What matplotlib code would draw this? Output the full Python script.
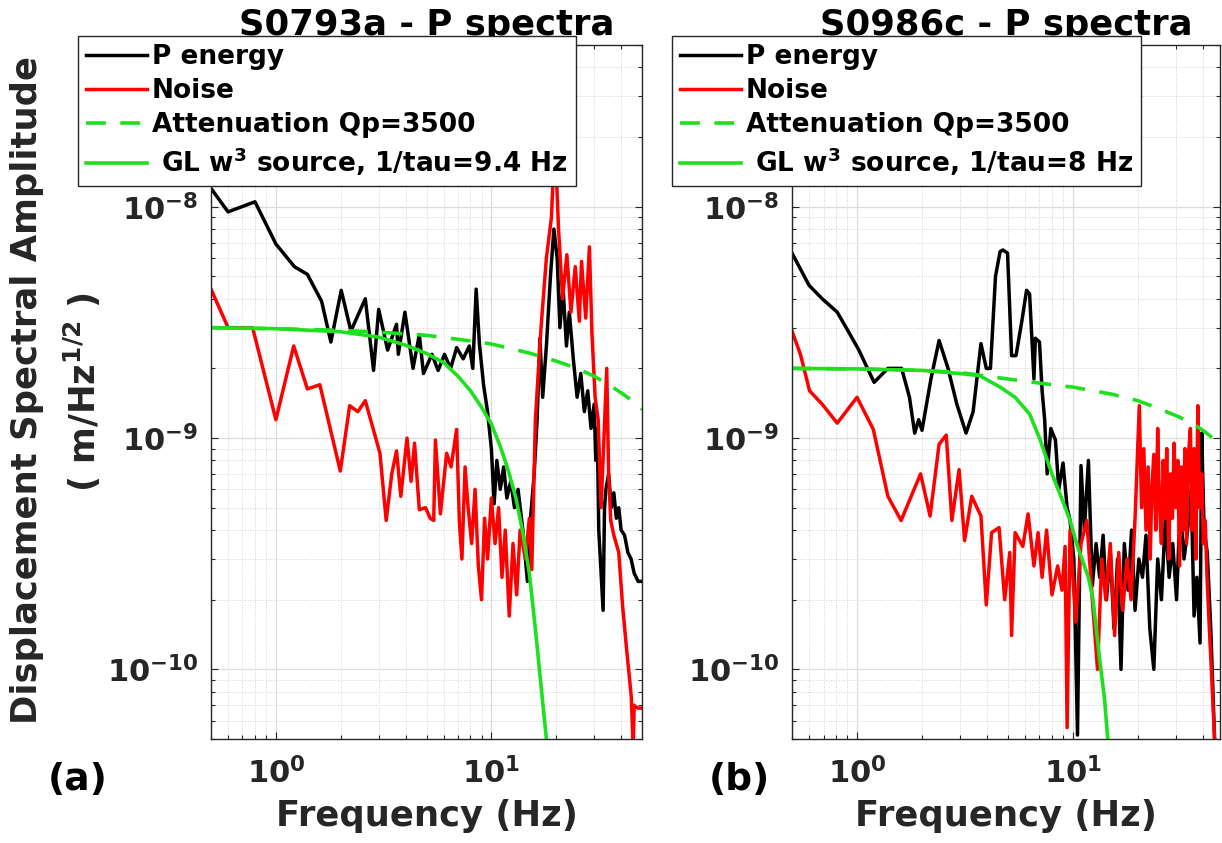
"""
Displacement spectra of two marsquakes (P window vs noise) with source and attenuation fits.
"""

import numpy as np
import matplotlib

matplotlib.use("Agg")
import matplotlib.pyplot as plt
from matplotlib.ticker import LogLocator, FixedLocator, FuncFormatter, NullFormatter

plt.rcParams["font.family"] = ["DejaVu Sans"]
plt.rcParams["font.weight"] = "bold"
plt.rcParams["axes.labelweight"] = "bold"
plt.rcParams["mathtext.fontset"] = "dejavusans"

# ---- S0793a (left panel), amplitudes in units of 1e-9 m/Hz^(1/2) ----
s0793_p_freq = [0.5, 0.6, 0.8, 1.0, 1.22, 1.4, 1.63, 1.8, 2.01, 2.23,
                2.6, 2.84, 3.0, 3.3, 3.63, 3.7, 3.97, 4.33, 4.63, 4.84,
                5.3, 5.66, 6.06, 6.47, 6.9, 7.4, 7.9, 8.2, 8.5, 8.8,
                9.2, 9.6, 10.0, 10.3, 10.6, 11.0, 11.4, 11.8, 12.3, 12.8,
                13.3, 14.0, 14.7, 15.2, 15.8, 16.3, 16.8, 17.3, 18.0, 18.8,
                19.5, 20.2, 20.8, 21.5, 22.3, 23.0, 24.0, 25.0, 26.0, 27.0,
                28.0, 29.0, 30.0, 30.5, 31.0, 31.5, 33.0, 33.5, 34.0, 35.0,
                36.0, 37.0, 38.0, 39.0, 40.0, 41.5, 43.0, 44.5, 46.0, 48.0,
                50.0]
s0793_p_amp = [12, 9.5, 10.5, 6.9, 5.5, 5.1, 3.9, 2.6, 4.35, 2.9,
               4.0, 1.96, 3.6, 2.4, 3.1, 2.3, 3.5, 2.0, 2.8, 1.9,
               2.3, 1.96, 2.3, 2.0, 2.46, 2.2, 2.5, 2.0, 4.4, 2.55,
               1.7, 1.3, 0.9, 0.52, 0.8, 0.6, 0.75, 0.55, 0.65, 0.5,
               0.6, 0.4, 0.24, 0.45, 0.7, 1.2, 2.7, 1.5, 2.5, 5.0,
               8.0, 6.0, 3.0, 4.5, 2.5, 3.5, 2.2, 1.5, 1.9, 1.3,
               1.6, 1.1, 1.4, 0.8, 1.1, 0.4, 0.18, 0.5, 0.6, 0.7,
               0.5, 0.58, 0.45, 0.5, 0.4, 0.38, 0.32, 0.3, 0.26, 0.24,
               0.24]

s0793_noise_freq = [0.5, 0.6, 0.78, 1.0, 1.21, 1.4, 1.6, 1.99, 2.2, 2.4,
                    2.6, 3.04, 3.25, 3.45, 3.63, 3.8, 4.06, 4.24, 4.4, 4.63,
                    4.95, 5.2, 5.4, 5.5, 5.8, 6.2, 6.5, 6.9, 7.1, 7.3,
                    7.55, 7.8, 8.1, 8.4, 8.7, 9.0, 9.3, 9.6, 10.0, 10.4,
                    10.8, 11.2, 11.6, 12.1, 12.6, 13.1, 13.6, 14.4, 15.0, 15.4,
                    16.0, 17.0, 18.0, 19.0, 19.7, 20.5, 21.4, 22.4, 23.4, 24.5,
                    25.6, 26.2, 27.4, 28.5, 29.3, 30.3, 31.3, 32.3, 33.3, 34.3,
                    35.0, 35.8, 37.0, 39.0, 40.6, 42.6, 44.6, 45.5, 46.0, 46.6,
                    48.0, 50.0]
s0793_noise_amp = [4.4, 3.0, 3.0, 1.2, 2.5, 1.63, 1.7, 0.72, 1.38, 1.3,
                   1.45, 0.86, 0.44, 0.7, 0.88, 0.56, 1.0, 0.65, 0.95, 0.49,
                   0.5, 0.45, 0.44, 0.98, 0.47, 0.86, 0.75, 1.09, 0.44, 0.3,
                   0.75, 0.5, 0.35, 0.6, 0.28, 0.2, 0.45, 0.3, 0.55, 0.35,
                   0.5, 0.25, 0.4, 0.17, 0.35, 0.21, 0.4, 0.3, 0.45, 0.27,
                   1.2, 3.0, 6.0, 9.0, 20.0, 8.0, 4.0, 6.2, 3.5, 5.5,
                   3.2, 5.8, 3.3, 6.7, 2.8, 1.5, 1.2, 0.5, 1.0, 2.0,
                   0.7, 0.44, 0.38, 0.32, 0.19, 0.117, 0.076, 0.045, 0.07, 0.069,
                   0.068, 0.068]

s0793_att_freq = [0.5, 1, 2, 3, 5, 8, 10, 15, 20, 25, 30, 35, 40, 45, 50]
s0793_att_amp = [3.0, 2.97, 2.92, 2.87, 2.78, 2.63, 2.55, 2.33, 2.15, 2.0,
                 1.85, 1.7, 1.57, 1.45, 1.33]

s0793_src_freq = [0.5, 1, 2, 3, 4, 5, 6, 7, 8, 9, 10, 11, 12, 13, 14, 15,
                  16, 17, 18, 18.5]
s0793_src_amp = [3.0, 2.97, 2.88, 2.73, 2.52, 2.32, 2.12, 1.85, 1.6, 1.36,
                 1.15, 0.92, 0.72, 0.55, 0.39, 0.26, 0.15, 0.085, 0.05, 0.035]

# ---- S0986c (right panel) ----
s0986_p_freq = [0.5, 0.6, 0.69, 0.81, 0.91, 1.02, 1.2, 1.39, 1.61, 1.75,
                1.85, 1.93, 2.0, 2.2, 2.4, 2.64, 2.9, 3.2, 3.45, 3.75,
                3.97, 4.15, 4.38, 4.6, 4.74, 4.98, 5.2, 5.45, 5.8, 6.1,
                6.3, 6.6, 6.7, 7.0, 7.2, 7.4, 7.6, 7.9, 8.3, 8.6,
                9.0, 9.4, 9.7, 10.1, 10.5, 10.9, 11.3, 11.8, 12.3, 12.8,
                13.3, 13.8, 14.3, 14.9, 15.5, 16.1, 16.7, 17.3, 18.0, 18.7,
                19.4, 20.2, 21.0, 21.8, 22.7, 23.7, 24.7, 25.7, 26.8, 27.9,
                29.0, 30.2, 31.4, 32.7, 34.0, 35.3, 36.4, 37.5, 38.8, 39.5,
                40.5, 41.9, 43.5, 45.3, 47.0]
s0986_p_amp = [6.3, 4.57, 4.0, 3.5, 2.9, 2.4, 1.74, 2.0, 2.0, 1.5,
               1.05, 1.2, 1.08, 1.8, 2.64, 2.0, 1.4, 1.05, 1.3, 2.56,
               2.0, 2.0, 5.0, 6.4, 6.5, 6.3, 2.27, 2.27, 3.2, 4.35,
               4.2, 1.8, 2.7, 2.6, 1.6, 1.2, 0.7, 1.1, 0.98, 0.6,
               0.78, 0.5, 0.44, 0.3, 0.052, 0.76, 0.4, 0.8, 0.23, 0.35,
               0.25, 0.38, 0.2, 0.32, 0.15, 0.3, 0.1, 0.35, 0.22, 0.4,
               0.18, 0.3, 0.25, 0.38, 0.15, 0.1, 0.3, 0.2, 0.45, 0.25,
               0.35, 0.2, 0.5, 0.3, 0.4, 0.6, 0.17, 0.25, 0.13, 1.05,
               0.4, 0.32, 0.15, 0.05, 0.03]

s0986_noise_freq = [0.5, 0.547, 0.603, 0.69, 0.81, 1.0, 1.19, 1.39, 1.6, 1.97,
                    2.18, 2.4, 2.59, 2.75, 2.97, 3.15, 3.4, 3.75, 3.97, 4.2,
                    4.55, 4.83, 5.1, 5.2, 5.4, 5.86, 6.2, 6.6, 6.9, 7.2,
                    7.55, 8.0, 8.5, 8.9, 9.2, 9.4, 9.7, 10.3, 10.9, 11.6,
                    12.3, 13.0, 13.6, 14.2, 14.9, 15.6, 16.3, 17.0, 17.8, 18.6,
                    19.4, 20.3, 20.8, 21.3, 21.8, 22.3, 22.8, 23.2, 23.7, 24.2,
                    24.7, 25.2, 25.7, 26.2, 26.7, 27.2, 27.8, 28.3, 28.9, 29.4,
                    30.0, 30.6, 31.2, 31.8, 32.4, 33.0, 33.6, 34.3, 35.0, 35.7,
                    36.4, 37.1, 37.9, 38.6, 39.5, 40.2, 41.0, 41.8, 42.7, 44.0,
                    45.3, 47.0]
s0986_noise_amp = [2.9, 2.3, 1.6, 1.4, 1.16, 1.5, 1.09, 0.56, 0.44, 0.7,
                   0.46, 0.94, 1.03, 0.44, 0.73, 0.36, 0.56, 0.46, 0.19, 0.39,
                   0.41, 0.2, 0.32, 0.14, 0.39, 0.34, 0.47, 0.28, 0.39, 0.25,
                   0.4, 0.21, 0.28, 0.22, 0.34, 0.056, 0.4, 0.16, 0.35, 0.44,
                   0.2, 0.1, 0.3, 0.2, 0.35, 0.14, 0.32, 0.18, 0.3, 0.2,
                   0.45, 1.38, 0.5, 0.9, 0.4, 0.75, 0.3, 0.6, 0.85, 0.4,
                   1.1, 0.5, 0.35, 0.8, 0.45, 0.9, 0.3, 0.7, 0.45, 0.95,
                   0.5, 0.8, 0.28, 0.75, 0.4, 0.9, 0.35, 0.85, 1.1, 0.4,
                   0.9, 0.3, 1.38, 0.5, 0.7, 0.35, 0.44, 0.25, 0.16, 0.09,
                   0.05, 0.03]

s0986_att_freq = [0.5, 1, 2, 3, 5, 8, 10, 15, 20, 25, 30, 35, 40, 45, 48]
s0986_att_amp = [2.0, 1.99, 1.96, 1.92, 1.8, 1.7, 1.66, 1.55, 1.45, 1.34,
                 1.25, 1.17, 1.08, 0.99, 0.94]

s0986_src_freq = [0.5, 1, 2, 3, 3.7, 4.6, 5.4, 6.3, 7, 8, 9, 9.7, 10.5,
                  11.8, 12.4, 13.3, 14, 14.5, 15]
s0986_src_amp = [2.0, 1.99, 1.96, 1.9, 1.86, 1.66, 1.5, 1.27, 1.0, 0.7,
                 0.53, 0.44, 0.34, 0.25, 0.2, 0.11, 0.075, 0.05, 0.035]

# labelled decades on both axes
x_decades = [1, 10]
y_decades = [1e-10, 1e-9, 1e-8]

AMP_SCALE = 1e-9
AX_GRAY = "#262626"
GREEN = "#1ee01e"
FIG_W, FIG_H = 1222, 843


def _decade_label(v, pos):
    return r"$\mathbf{10^{%d}}$" % int(round(np.log10(v)))


def draw_panel(ax, p_f, p_a, n_f, n_a, att_f, att_a, src_f, src_a,
               src_label, title, xmax):
    s = AMP_SCALE
    ax.plot(p_f, np.array(p_a) * s, color="black", lw=2.5, label="P energy")
    ax.plot(n_f, np.array(n_a) * s, color="red", lw=2.5, label="Noise")
    ax.plot(att_f, np.array(att_a) * s, color=GREEN, lw=2.6,
            ls=(0, (5.5, 4)), label="Attenuation Qp=3500")
    ax.plot(src_f, np.array(src_a) * s, color=GREEN, lw=2.6, label=src_label)

    ax.set_xscale("log")
    ax.set_yscale("log")
    ax.set_xlim(0.5, xmax)
    ax.set_ylim(5e-11, 5e-8)

    ax.xaxis.set_major_locator(FixedLocator(x_decades))
    ax.yaxis.set_major_locator(FixedLocator(y_decades))
    for axis in (ax.xaxis, ax.yaxis):
        axis.set_minor_locator(LogLocator(base=10, subs=np.arange(2, 10), numticks=20))
        axis.set_major_formatter(FuncFormatter(_decade_label))
        axis.set_minor_formatter(NullFormatter())

    ax.grid(True, which="major", color="#dcdcdc", lw=0.9, ls="-")
    ax.grid(True, which="minor", color="#d2d2d2", lw=0.7, ls=":")
    ax.set_axisbelow(True)

    ax.tick_params(which="both", direction="in", top=True, right=True,
                   color=AX_GRAY, labelcolor=AX_GRAY, labelsize=22)
    ax.tick_params(which="major", length=5, width=0.8)
    ax.tick_params(which="minor", length=3, width=0.8)
    ax.tick_params(axis="x", pad=13)
    ax.tick_params(axis="y", pad=9)
    for sp in ax.spines.values():
        sp.set_color(AX_GRAY)
        sp.set_linewidth(1.0)

    ax.set_xlabel("Frequency (Hz)", fontsize=25.5, fontweight="bold",
                  color=AX_GRAY, labelpad=7)
    ax.set_title(title, fontsize=25.5, fontweight="bold", color="black", pad=7)


fig = plt.figure(figsize=(FIG_W / 100, FIG_H / 100), dpi=100)

ax_a = fig.add_axes([211 / FIG_W, 1 - 739 / FIG_H, 431 / FIG_W, 694 / FIG_H])
ax_b = fig.add_axes([792 / FIG_W, 1 - 739 / FIG_H, 428 / FIG_W, 694 / FIG_H])

draw_panel(ax_a, s0793_p_freq, s0793_p_amp, s0793_noise_freq, s0793_noise_amp,
           s0793_att_freq, s0793_att_amp, s0793_src_freq, s0793_src_amp,
           r" GL w$^{\mathbf{3}}$ source, 1/tau=9.4 Hz", "S0793a - P spectra", 50)
draw_panel(ax_b, s0986_p_freq, s0986_p_amp, s0986_noise_freq, s0986_noise_amp,
           s0986_att_freq, s0986_att_amp, s0986_src_freq, s0986_src_amp,
           r" GL w$^{\mathbf{3}}$ source, 1/tau=8 Hz", "S0986c - P spectra", 48)

# legends sit over the top-left part of each panel (and over the title)
for ax, x0 in ((ax_a, 78), (ax_b, 672)):
    leg = ax.legend(loc="upper left", bbox_to_anchor=(x0 / FIG_W, 1 - 36 / FIG_H),
                    bbox_transform=fig.transFigure, borderaxespad=0,
                    fontsize=19, handlelength=2.3, handletextpad=0.2,
                    labelspacing=0.3, borderpad=0.3, fancybox=False,
                    framealpha=1, edgecolor=AX_GRAY)
    leg.get_frame().set_linewidth(1.0)
    leg.set_zorder(10)

# two-line y label of the left panel
fig.text(27 / FIG_W, 1 - 390 / FIG_H, "Displacement Spectral Amplitude",
         rotation=90, ha="center", va="center", fontsize=25.5, color=AX_GRAY)
fig.text(82 / FIG_W, 1 - 392 / FIG_H, r"( m/Hz$^{\mathbf{1/2}}$ )",
         rotation=90, ha="center", va="center", fontsize=25.5, color=AX_GRAY)

fig.text(78 / FIG_W, 1 - 780 / FIG_H, "(a)", ha="center", va="center",
         fontsize=27, color="black")
fig.text(739 / FIG_W, 1 - 780 / FIG_H, "(b)", ha="center", va="center",
         fontsize=27, color="black")

fig.savefig("out.png", dpi=100)
plt.close(fig)
print("Saved: out.png")
